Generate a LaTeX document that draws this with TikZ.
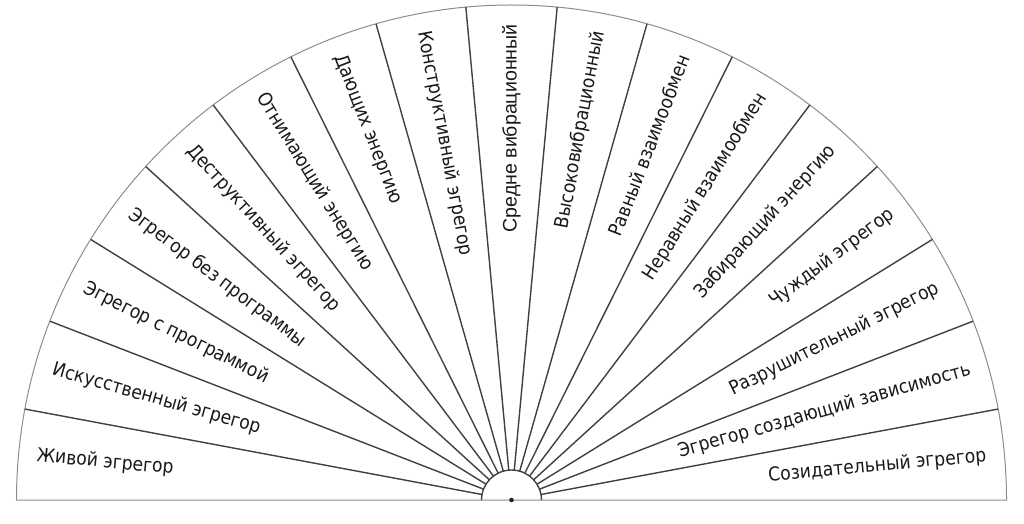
\documentclass[tikz,border=0pt]{standalone}
\usepackage{fontspec}
\setmainfont{DejaVu Sans Condensed}
\newfontfamily\arialf{Liberation Sans}
\usetikzlibrary{calc}
\begin{document}
\begin{tikzpicture}[x=1pt,y=1pt,
  spoke/.style={draw=black!75, line width=1.4pt},
  rim/.style={draw=black!45, line width=1pt},
  lbl/.style={font=\fontsize{19.1}{19}\selectfont, text=black!90, inner sep=0pt},
]
\useasboundingbox (0,0) rectangle (1024,523);
\coordinate (O) at (511.5,23);
% outer rim and base line
\draw[rim] ($(O)+(-495,0)$) arc (180:0:495) -- cycle;
% spokes
\foreach \i in {1,...,16}{
  \draw[spoke] ($(O)+({\i*180/17}:30)$) -- ($(O)+({\i*180/17}:495)$);
}
% inner semicircle and centre dot
\draw[spoke] ($(O)+(-30,0)$) arc (180:0:30);
\fill[black!85] (O) circle (2.3);
% labels
\foreach \t [count=\i] in {Живой эгрегор, Искусственный эгрегор, Эгрегор с программой, Эгрегор без программы, Деструктивный эгрегор, Отнимающий энергию, Дающих энергию, Конструктивный эгрегор, Средне вибрационный, Высоковибрационный, Равный взаимообмен, Неравный взаимообмен, Забирающий энергию, Чуждый эгрегор, Разрушительный эгрегор, Эгрегор создающий зависимость, Созидательный эгрегор}{
  \pgfmathsetmacro\ang{180-(\i-0.5)*180/17}
  \ifnum\i<9
    \pgfmathsetmacro\rot{\ang-180}
    \node[lbl, anchor=west, rotate=\rot] (L\i) at ($(O)+(\ang:477)$) {\t};
  \else\ifnum\i=9
    \node[lbl, font=\arialf\fontsize{19.6}{19}\selectfont, anchor=east, rotate=\ang] (L\i) at ($(O)+(\ang:476)$) {\t};
  \else
    \node[lbl, anchor=east, rotate=\ang] (L\i) at ($(O)+(\ang:477)$) {\t};
  \fi\fi
}
\end{tikzpicture}
\end{document}
